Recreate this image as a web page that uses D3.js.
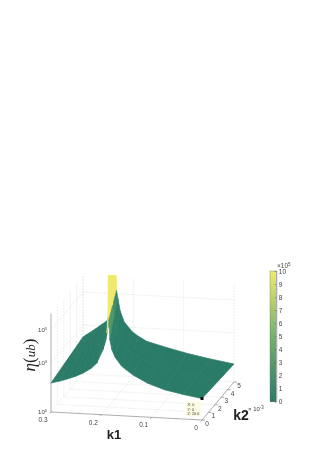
<!DOCTYPE html>
<html>
<head>
<meta charset="utf-8">
<script src="https://cdn.jsdelivr.net/npm/d3@7"></script>
<style>
body { margin: 0; background: #fff; }
svg { display: block; filter: blur(0.4px); }
text { font-family: "Liberation Sans", Arial, sans-serif; fill: #444; }
</style>
</head>
<body>
<svg id="svg01" width="331" height="468"></svg>
<script>
// values. rows are k2, columns run from k1=0 over the ridge to k1=0.3
const k2Rows = [5, 2.5, 0]
const k1Grid = [
    [0, 0.047, 0.094, 0.136, 0.1735, 0.19, 0.2017, 0.218, 0.226, 0.2305, 0.2333, 0.2342, 0.2345,
        0.235, 0.238, 0.241, 0.244, 0.252, 0.263, 0.274, 0.28, 0.287, 0.294, 0.3],
    [0, 0.0421, 0.0842, 0.122, 0.155, 0.17, 0.181, 0.1955, 0.2025, 0.2068, 0.2092, 0.21, 0.2102,
        0.2108, 0.2135, 0.2165, 0.2205, 0.2305, 0.2415, 0.255, 0.266, 0.2775, 0.289, 0.3],
    [0, 0.0372, 0.0744, 0.108, 0.137, 0.15, 0.16, 0.173, 0.179, 0.183, 0.1851, 0.1858, 0.186,
        0.1865, 0.189, 0.192, 0.197, 0.209, 0.22, 0.236, 0.252, 0.268, 0.284, 0.3]
]
const logEtaGrid = [
    [1.1, 1.33, 1.6, 1.9, 2.2, 2.48, 2.72, 3.3, 3.95, 4.7, 5.2, 6.5, 9,
        6.5, 5.5, 4.75, 4.2, 3.33, 3.08, 2.82, 2.69, 2.54, 2.39, 2.26],
    [1.2, 1.41, 1.66, 1.98, 2.36, 2.64, 2.88, 3.43, 3.97, 4.66, 5.5, 6.5, 9,
        6.5, 5.25, 4.6, 4.07, 3.22, 2.93, 2.65, 2.47, 2.3, 2.14, 2.01],
    [1.31, 1.5, 1.72, 2.07, 2.52, 2.8, 3.03, 3.56, 4.0, 4.58, 5.8, 6.5, 9,
        6.5, 5.0, 4.45, 3.95, 3.13, 2.8, 2.48, 2.25, 2.06, 1.9, 1.77]
]
const k1Ticks = [0, 0.1, 0.2, 0.3]
const k2Ticks = [0, 1, 2, 3, 4, 5]
const zTicks = [0, 3, 5]
const colorTicks = [0, 1, 2, 3, 4, 5, 6, 7, 8, 9, 10]
const tipLines = ["X: 0", "Y: 0", "Z: 20.6"]

// oblique view: every point is the sum of the three axis directions
const xK1 = d3.scaleLinear().domain([0, 0.3]).range([202, 51])
const yK1 = d3.scaleLinear().domain([0, 0.3]).range([420, 412])
const xK2 = d3.scaleLinear().domain([0, 5]).range([0, 32])
const yK2 = d3.scaleLinear().domain([0, 5]).range([0, -38])
const zUp = d3.scaleLinear().domain([0, 6]).range([0, -98.4])

const px = (k1, k2) => xK1(k1) + xK2(k2)
const py = (k1, k2, z) => yK1(k1) + yK2(k2) + zUp(z)

const color = d3.scaleLinear()
    .domain([0, 5, 10])
    .range(["#2a7b68", "#74b26c", "#f0ea6c"])
    .clamp(true)

const svg = d3.select("#svg01")

const line3d = (a, b, stroke, dash) => svg.append("line")
    .attr("x1", px(a[0], a[1])).attr("y1", py(a[0], a[1], a[2]))
    .attr("x2", px(b[0], b[1])).attr("y2", py(b[0], b[1], b[2]))
    .attr("stroke", stroke).attr("stroke-width", 0.7)
    .attr("stroke-dasharray", dash)

// grid on floor and the two back walls
const gridColor = "#e6e6e6"
k1Ticks.slice(1, 3).forEach(k => {
    line3d([k, 0, 0], [k, 5, 0], gridColor, "2 1")
    line3d([k, 5, 0], [k, 5, 6], gridColor, "2 1")
})
k2Ticks.slice(1, 5).forEach(k => {
    line3d([0, k, 0], [0.3, k, 0], gridColor, "2 1")
    line3d([0.3, k, 0], [0.3, k, 6], gridColor, "2 1")
})
zTicks.slice(1).forEach(z => {
    line3d([0.3, 0, z], [0.3, 5, z], gridColor, "2 1")
    line3d([0.3, 5, z], [0, 5, z], gridColor, "2 1")
})
line3d([0.3, 5, 0], [0.3, 5, 6], "#d6d6d6", "2 1")
line3d([0, 5, 0], [0, 5, 6], gridColor, "2 1")
line3d([0.3, 5, 0], [0, 5, 0], gridColor, "2 1")
line3d([0.3, 0, 0], [0.3, 5, 0], gridColor, "2 1")

// axes
const axisColor = "#8a8a8a"
line3d([0.3, 0, 0], [0.3, 0, 6], axisColor)
line3d([0.3, 0, 0], [0, 0, 0], axisColor)
line3d([0, 0, 0], [0, 5, 0], axisColor)

k1Ticks.forEach(k => {
    line3d([k, 0, 0], [k, -0.2, 0], axisColor)
    svg.append("text")
        .attr("x", px(k, 0) - (k === 0 ? 6 : 8))
        .attr("y", py(k, 0, 0) + 10)
        .attr("text-anchor", "middle").attr("font-size", 6.5)
        .text(k)
})
k2Ticks.forEach(k => {
    line3d([0, k, 0], [-0.006, k, 0], axisColor)
    svg.append("text")
        .attr("x", px(0, k) + 5)
        .attr("y", py(0, k, 0) + 6)
        .attr("text-anchor", "middle").attr("font-size", 6.5)
        .text(k)
})
zTicks.forEach(z => {
    const t = svg.append("text")
        .attr("x", 47).attr("y", py(0.3, 0, z) + 2)
        .attr("text-anchor", "end").attr("font-size", 6)
        .text("10")
    t.append("tspan").attr("dy", -2).attr("font-size", 4).text(z)
})

// surface, far cells first so the near wing covers them
svg.append("defs").append("clipPath").attr("id", "crop")
    .append("rect").attr("x", 0).attr("y", 275).attr("width", 331).attr("height", 193)

const cells = []
for (let r = 0; r < k2Rows.length - 1; r++) {
    for (let c = k1Grid[r].length - 2; c >= 0; c--) {
        cells.push({ r, c })
    }
}
const corner = (r, c) => [px(k1Grid[r][c], k2Rows[r]), py(k1Grid[r][c], k2Rows[r], logEtaGrid[r][c])]
const cellValue = d => d3.mean([[0, 0], [0, 1], [1, 0], [1, 1]], o =>
    Math.pow(10, Math.min(logEtaGrid[d.r + o[0]][d.c + o[1]], 7) - 5))

svg.append("g").attr("clip-path", "url(#crop)")
    .selectAll("path").data(cells).join("path")
    .attr("d", d => d3.line()([
        corner(d.r, d.c), corner(d.r, d.c + 1),
        corner(d.r + 1, d.c + 1), corner(d.r + 1, d.c)
    ]) + "Z")
    .attr("fill", d => color(cellValue(d)))
    .attr("stroke", d => color(cellValue(d)))
    .attr("stroke-width", 0.7)

// data tip on the k1=0, k2=0 corner
const tipX = px(0, 0), tipY = py(0, 0, logEtaGrid[2][0])
svg.append("rect")
    .attr("x", tipX - 16).attr("y", tipY + 3).attr("width", 14.5).attr("height", 15)
    .attr("fill", "#fbfbe2")
svg.selectAll(".tip").data(tipLines).join("text")
    .attr("class", "tip")
    .attr("x", tipX - 14.5).attr("y", (d, i) => tipY + 7.5 + i * 4.6)
    .attr("font-size", 3.8)
    .text(d => d)
svg.append("rect")
    .attr("x", tipX - 1.5).attr("y", tipY - 1.5).attr("width", 3).attr("height", 3)
    .attr("fill", "#111")

// axis titles
svg.append("text").attr("x", 114).attr("y", 438.5)
    .attr("text-anchor", "middle").attr("font-size", 13).attr("font-weight", "bold")
    .style("fill", "#222").text("k1")
svg.append("text").attr("x", 241).attr("y", 420)
    .attr("text-anchor", "middle").attr("font-size", 14).attr("font-weight", "bold")
    .style("fill", "#222").text("k2")
const k2Exp = svg.append("text").attr("x", 248).attr("y", 411).attr("font-size", 6).text("× 10")
k2Exp.append("tspan").attr("dy", -2).attr("font-size", 4.5).text("-3")

const yTitle = svg.append("text")
    .attr("transform", "translate(35,355) rotate(-90)")
    .attr("text-anchor", "middle")
    .style("font-family", '"Liberation Serif", serif')
    .attr("font-size", 17)
    .style("fill", "#222")
yTitle.append("tspan").attr("font-style", "italic").text("η")
yTitle.append("tspan").text("(")
yTitle.append("tspan").attr("font-style", "italic").attr("font-size", 13).text("ub")
yTitle.append("tspan").text(")")

// colorbar
const barScale = d3.scaleLinear().domain([0, 10]).range([401.5, 271])
const barSteps = d3.range(0, 10, 0.1)
svg.append("g").attr("shape-rendering", "crispEdges")
    .selectAll("rect").data(barSteps).join("rect")
    .attr("x", 270).attr("width", 6.3)
    .attr("y", d => barScale(d + 0.1))
    .attr("height", d => barScale(d) - barScale(d + 0.1) + 0.5)
    .attr("fill", d => color(d))

svg.append("g")
    .attr("transform", "translate(276.3,0)")
    .call(d3.axisRight(barScale).tickValues(colorTicks).tickFormat(d3.format("d")).tickSize(-1.5).tickPadding(2.5))
    .call(g => g.select(".domain").attr("stroke", "#777").attr("stroke-width", 0.5))
    .call(g => g.selectAll(".tick line").attr("stroke", "#555").attr("stroke-width", 0.5))
    .call(g => g.selectAll("text").attr("font-size", 6.5).style("font-family", '"Liberation Sans", sans-serif'))
svg.append("rect").attr("x", 270).attr("y", 271).attr("width", 6.3).attr("height", 130.5)
    .attr("fill", "none").attr("stroke", "#777").attr("stroke-width", 0.4)

const barExp = svg.append("text").attr("x", 277).attr("y", 268).attr("font-size", 6.5).text("×10")
barExp.append("tspan").attr("dy", -2).attr("font-size", 4.5).text("5")
</script>
</body>
</html>
